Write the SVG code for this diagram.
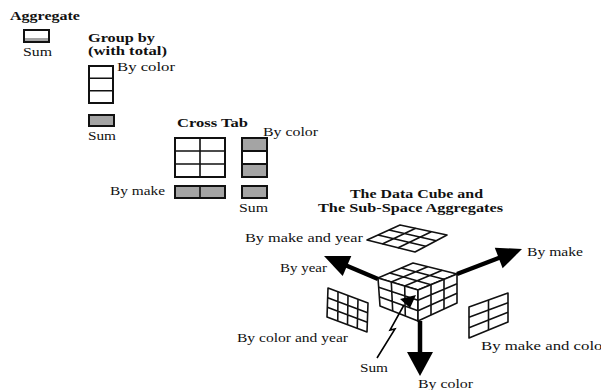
<svg xmlns="http://www.w3.org/2000/svg" width="601" height="390" viewBox="0 0 601 390" font-family="'Liberation Serif', 'DejaVu Serif', serif">
<style>
text{font-family:'Liberation Serif','DejaVu Serif',serif;fill:#111}
.l{font-size:12.5px}
.b{font-size:12px;font-weight:bold}
.box{fill:#fff;stroke:#111;stroke-width:2}
.gbox{fill:#a4a4a4;stroke:#111;stroke-width:2}
.g{fill:none;stroke:#111;stroke-width:1.6;stroke-linejoin:round}
.gw{fill:#fff;stroke:#111;stroke-width:1.6;stroke-linejoin:round}
.sh{fill:none;stroke:#000;stroke-width:4.5}
.hd{fill:#000;stroke:none}
</style>
<rect width="601" height="390" fill="#fff"/>

<g id="aggregate">
<text class="b" x="10" y="20" textLength="70" lengthAdjust="spacingAndGlyphs">Aggregate</text>
<rect class="box" x="24" y="30" width="25" height="12"/>
<rect x="25" y="38" width="23" height="3" fill="#a4a4a4"/>
<text class="l" x="23" y="56" textLength="29" lengthAdjust="spacingAndGlyphs">Sum</text>
</g>

<g id="group-by">
<text class="b" x="88" y="42" textLength="67" lengthAdjust="spacingAndGlyphs">Group by</text>
<text class="b" x="88" y="55" textLength="79" lengthAdjust="spacingAndGlyphs">(with total)</text>
<text class="l" x="117" y="71" textLength="58" lengthAdjust="spacingAndGlyphs">By color</text>
<rect class="box" x="89" y="66" width="24" height="37"/>
<path class="g" d="M89,78.3H113M89,90.7H113"/>
<rect class="gbox" x="89" y="115" width="25" height="11"/>
<text class="l" x="88" y="140" textLength="28" lengthAdjust="spacingAndGlyphs">Sum</text>
</g>

<g id="cross-tab">
<text class="b" x="177" y="127" textLength="71" lengthAdjust="spacingAndGlyphs">Cross Tab</text>
<text class="l" x="263" y="136" textLength="55" lengthAdjust="spacingAndGlyphs">By color</text>
<rect class="box" x="175" y="138" width="50" height="39"/>
<path class="g" d="M200,138V177M175,151H225M175,164H225"/>
<rect class="gbox" x="242" y="138" width="25" height="13"/>
<rect class="box" x="242" y="151" width="25" height="13"/>
<rect class="gbox" x="242" y="164" width="25" height="13"/>
<text class="l" x="110" y="195" textLength="55" lengthAdjust="spacingAndGlyphs">By make</text>
<rect class="gbox" x="175" y="186" width="50" height="12"/>
<path class="g" d="M200,186V198"/>
<rect class="gbox" x="242" y="186" width="25" height="12"/>
<text class="l" x="239" y="212" textLength="29" lengthAdjust="spacingAndGlyphs">Sum</text>
</g>

<g id="cube-title">
<text class="b" x="350" y="198" textLength="133" lengthAdjust="spacingAndGlyphs">The Data Cube and</text>
<text class="b" x="318" y="212" textLength="185" lengthAdjust="spacingAndGlyphs">The Sub-Space Aggregates</text>
</g>

<g id="make-year">
<text class="l" x="245" y="242" textLength="118" lengthAdjust="spacingAndGlyphs">By make and year</text>
<path class="gw" d="M367,240L400,225L447,235L415,252Z"/>
<path class="g" d="M382.3,244L415.7,228.3M397.7,248L431.3,231.7M378,235L425.7,246.3M389,230L436.3,240.7"/>
</g>

<g id="color-year">
<path class="gw" d="M328,288L368,303L367,332L327,317Z"/>
<path class="g" d="M338,291.75L337.75,320.75M348,295.5L347.5,324.5M358,299.25L357.25,328.25M327.7,297.7L367.7,312.7M327.3,307.3L367.3,322.3"/>
<text class="l" x="237" y="342" textLength="111" lengthAdjust="spacingAndGlyphs">By color and year</text>
</g>

<g id="make-color">
<path class="gw" d="M469,307L508,293L508,322L469,338Z"/>
<path class="g" d="M488.5,300V330M469,317.3L508,302.7M469,327.7L508,312.3"/>
<text class="l" x="481" y="350" textLength="127" lengthAdjust="spacingAndGlyphs">By make and color</text>
</g>

<g id="cube">
<path class="gw" d="M378,278L413,263L457,274L418,290Z"/>
<path class="g" d="M391.3,282L427.7,266.7M404.7,286L442.3,270.3M389.7,273L431,284.7M401.3,268L444,279.3"/>
<path class="gw" d="M378,278L418,290L418,321L380,306Z"/>
<path class="g" d="M391.3,282L392.7,311M404.7,286L405.3,316M378.7,287.3L418,300.3M379.3,296.7L418,310.7"/>
<path class="gw" d="M418,290L457,274L457,303L418,321Z"/>
<path class="g" d="M431,284.7L431,315M444,279.3L444,309M418,300.3L457,283.7M418,310.7L457,293.3"/>
</g>

<g id="labels">
<text class="l" x="280" y="272" textLength="47" lengthAdjust="spacingAndGlyphs">By year</text>
<text class="l" x="527" y="256" textLength="56" lengthAdjust="spacingAndGlyphs">By make</text>
<text class="l" x="360" y="372" textLength="28" lengthAdjust="spacingAndGlyphs">Sum</text>
<text class="l" x="418" y="388" textLength="55" lengthAdjust="spacingAndGlyphs">By color</text>
</g>

<g id="connectors">
<path class="sh" d="M378,279L345,265"/>
<path class="hd" d="M324,256L351.3,255.9L342.7,276.1Z"/>
<path class="sh" d="M457,274L500,257.5"/>
<path class="hd" d="M522,249L494.8,247.7L502.6,268.3Z"/>
<path class="sh" d="M420,321V354"/>
<path class="hd" d="M420,376L407,352L433,352Z"/>
<path fill="none" stroke="#000" stroke-width="1.6" d="M377,358L395,329L390,330L404,305"/>
<path class="hd" d="M400,299L416,295L410,308Z"/>
</g>
</svg>
